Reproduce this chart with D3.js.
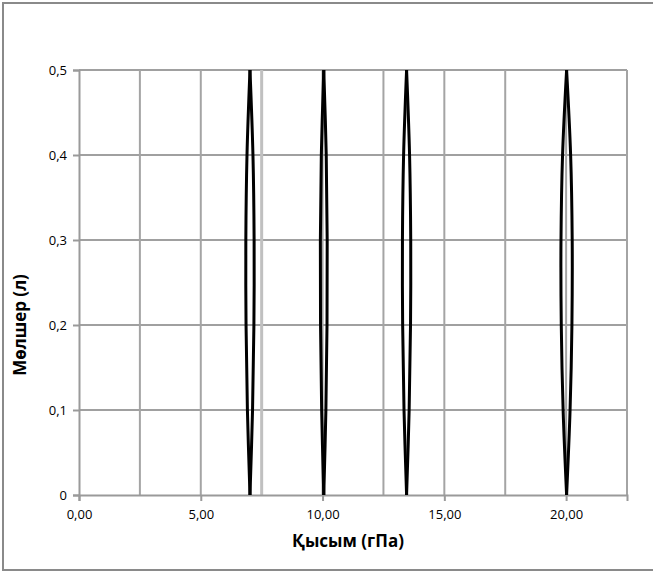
<!DOCTYPE html>
<html>
  <head>
    <style>
    body {
      font-family: "Open Sans", "Noto Sans", sans-serif;
      margin: 0;
      background: #fff;
    }
    </style>
  </head>
  <body>
    <script src="https://d3js.org/d3.v7.min.js"></script>
    <script>
    var width = 653, height = 573;

    // lens centres (гПа) and their half-width at mid height
    var centres = [7.02, 10.05, 13.45, 20.02];
    var halfWidths = [0.17, 0.14, 0.17, 0.23];
    // y levels of the points along each side
    var levels = [0, 0.1, 0.2, 0.3, 0.4, 0.5];
    // relative bulge at each level (0 at the ends, 1 at the widest)
    var bulge = [0, 0.62, 0.95, 1, 0.72, 0];

    var xTicks = [0, 5, 10, 15, 20];
    var xGrid = [2.5, 5, 7.5, 10, 12.5, 15, 17.5, 20, 22.5];
    var yTicks = [0, 0.1, 0.2, 0.3, 0.4, 0.5];

    var x = d3.scaleLinear().domain([0, 22.5]).range([79, 627]);
    var y = d3.scaleLinear().domain([0, 0.5]).range([495, 70]);

    var svg = d3.select("body").append("svg")
        .attr("width", width)
        .attr("height", height);

    // outer frame
    svg.append("rect")
        .attr("x", 3).attr("y", 3)
        .attr("width", 680).attr("height", 567)
        .attr("fill", "none")
        .attr("stroke", "#8a8a8a")
        .attr("stroke-width", 2);

    // grid
    svg.append("g").selectAll("line").data(yTicks.slice(1)).enter().append("line")
        .attr("x1", x(0)).attr("x2", x(22.5))
        .attr("y1", function(d){ return y(d); })
        .attr("y2", function(d){ return y(d); })
        .attr("stroke", "#a0a0a0")
        .attr("stroke-width", 2);

    svg.append("g").selectAll("line").data(xGrid).enter().append("line")
        .attr("x1", function(d){ return x(d); })
        .attr("x2", function(d){ return x(d); })
        .attr("y1", y(0)).attr("y2", y(0.5))
        .attr("stroke", function(d){ return d === 7.5 ? "#c0c0c0" : "#a4a4a4"; })
        .attr("stroke-width", function(d){ return d === 7.5 ? 3 : 2; });

    // axes
    var xAxis = d3.axisBottom(x).tickValues(xTicks).tickSize(6).tickPadding(9)
        .tickFormat(function(d){ return d3.format(".2f")(d).replace(".", ","); });
    var gx = svg.append("g").attr("transform", "translate(0," + y(0) + ")").call(xAxis);

    var yAxis = d3.axisLeft(y).tickValues(yTicks).tickSize(6).tickPadding(6)
        .tickFormat(function(d){ return d === 0 ? "0" : d3.format(".1f")(d).replace(".", ","); });
    var gy = svg.append("g").attr("transform", "translate(" + x(0) + ",0)").call(yAxis);

    [gx, gy].forEach(function(g){
      g.select(".domain").attr("stroke", "#9a9a9a").attr("stroke-width", 2);
      g.selectAll(".tick line").attr("stroke", "#9a9a9a").attr("stroke-width", 2);
      g.selectAll("text")
          .attr("fill", "#000")
          .style("font-family", "'Open Sans', sans-serif")
          .style("font-size", "13px");
    });

    // lenses: two sides each, from bottom to top
    var line = d3.line()
        .x(function(d){ return x(d[0]); })
        .y(function(d){ return y(d[1]); })
        .curve(d3.curveCatmullRom);

    centres.forEach(function(c, i){
      [-1, 1].forEach(function(side){
        var pts = levels.map(function(v, j){
          return [c + side * halfWidths[i] * bulge[j], v];
        });
        svg.append("path")
            .attr("d", line(pts))
            .attr("fill", "none")
            .attr("stroke", "#000")
            .attr("stroke-width", 3);
      });
    });

    // titles
    svg.append("text")
        .attr("x", 348).attr("y", 547)
        .attr("text-anchor", "middle")
        .style("font-size", "17px")
        .style("font-weight", "bold")
        .text("Қысым (гПа)");

    svg.append("text")
        .attr("transform", "translate(26,325) rotate(-90)")
        .attr("text-anchor", "middle")
        .style("font-size", "17px")
        .style("font-weight", "bold")
        .text("Мөлшер (л)");
    </script>
  </body>
</html>
